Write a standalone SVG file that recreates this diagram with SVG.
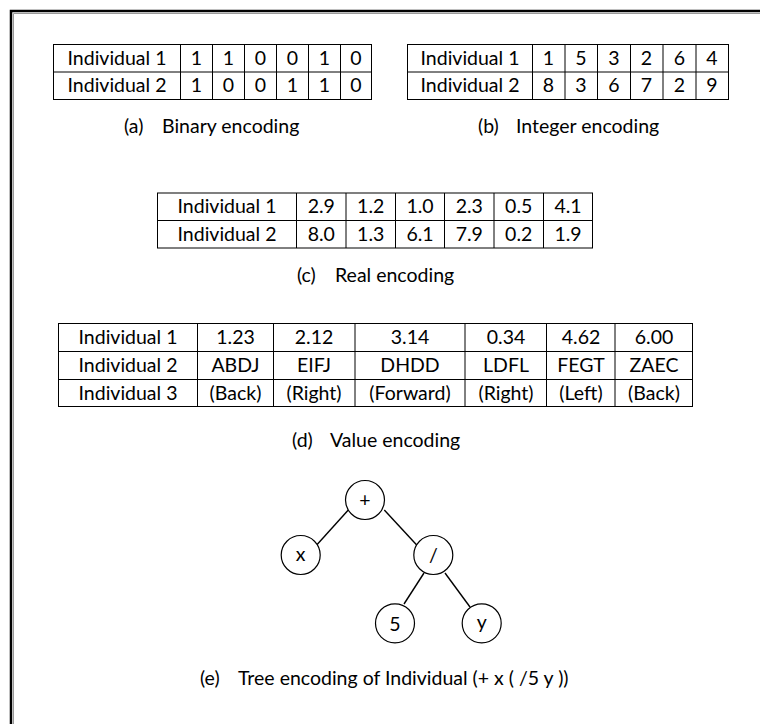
<svg xmlns="http://www.w3.org/2000/svg" width="760" height="724" viewBox="0 0 760 724">
<style>
  text { font-family: Lato, "Liberation Sans", sans-serif; font-size: 19.5px; fill: #000; }
  .c { text-anchor: middle; }
  .grid { stroke: #000; stroke-width: 1; fill: none; }
  .node { fill: #fff; stroke: #000; stroke-width: 1.2; }
  .edge { stroke: #000; stroke-width: 1.4; fill: none; }
</style>
<rect x="0" y="0" width="760" height="724" fill="#fff"/>
<g id="frame">
  <path d="M11 724 V11 H760" stroke="#000" stroke-width="2.5" fill="none"/>
  <path d="M13.5 724 V13.5 H760" stroke="#999" stroke-width="1" fill="none"/>
</g>

<g id="table-a">
  <rect class="grid" x="53.5" y="44.5" width="318" height="55"/>
  <path class="grid" d="M53.5 72 H371.5 M180.5 44.5 V99.5 M212.5 44.5 V99.5 M244.5 44.5 V99.5 M276.5 44.5 V99.5 M308.5 44.5 V99.5 M340.5 44.5 V99.5"/>
  <text class="c" x="117" y="64.5">Individual 1</text>
  <text class="c" x="196.5" y="64.5">1</text><text class="c" x="228.5" y="64.5">1</text><text class="c" x="260.5" y="64.5">0</text><text class="c" x="292.5" y="64.5">0</text><text class="c" x="324.5" y="64.5">1</text><text class="c" x="356" y="64.5">0</text>
  <text class="c" x="117" y="92">Individual 2</text>
  <text class="c" x="196.5" y="92">1</text><text class="c" x="228.5" y="92">0</text><text class="c" x="260.5" y="92">0</text><text class="c" x="292.5" y="92">1</text><text class="c" x="324.5" y="92">1</text><text class="c" x="356" y="92">0</text>
</g>

<g id="table-b">
  <rect class="grid" x="407.5" y="44.5" width="321" height="55"/>
  <path class="grid" d="M407.5 72 H728.5 M532.5 44.5 V99.5 M565 44.5 V99.5 M597.5 44.5 V99.5 M630.5 44.5 V99.5 M663 44.5 V99.5 M696 44.5 V99.5"/>
  <text class="c" x="470" y="64.5">Individual 1</text>
  <text class="c" x="548.5" y="64.5">1</text><text class="c" x="581" y="64.5">5</text><text class="c" x="614" y="64.5">3</text><text class="c" x="646.5" y="64.5">2</text><text class="c" x="679.5" y="64.5">6</text><text class="c" x="712" y="64.5">4</text>
  <text class="c" x="470" y="92">Individual 2</text>
  <text class="c" x="548.5" y="92">8</text><text class="c" x="581" y="92">3</text><text class="c" x="614" y="92">6</text><text class="c" x="646.5" y="92">7</text><text class="c" x="679.5" y="92">2</text><text class="c" x="712" y="92">9</text>
</g>

<g id="table-c">
  <rect class="grid" x="157.5" y="193" width="435" height="55"/>
  <path class="grid" d="M157.5 220.5 H592.5 M296.5 193 V248 M346 193 V248 M395.5 193 V248 M444.5 193 V248 M494 193 V248 M543.5 193 V248"/>
  <text class="c" x="227" y="213">Individual 1</text>
  <text class="c" x="321.3" y="213">2.9</text><text class="c" x="370.7" y="213">1.2</text><text class="c" x="420" y="213">1.0</text><text class="c" x="469.3" y="213">2.3</text><text class="c" x="518.7" y="213">0.5</text><text class="c" x="568" y="213">4.1</text>
  <text class="c" x="227" y="240.5">Individual 2</text>
  <text class="c" x="321.3" y="240.5">8.0</text><text class="c" x="370.7" y="240.5">1.3</text><text class="c" x="420" y="240.5">6.1</text><text class="c" x="469.3" y="240.5">7.9</text><text class="c" x="518.7" y="240.5">0.2</text><text class="c" x="568" y="240.5">1.9</text>
</g>

<g id="table-d">
  <rect class="grid" x="58.5" y="323.5" width="634" height="83"/>
  <path class="grid" d="M58.5 351.5 H692.5 M58.5 379.5 H692.5 M197.5 323.5 V406.5 M273.5 323.5 V406.5 M355 323.5 V406.5 M465 323.5 V406.5 M546.5 323.5 V406.5 M615 323.5 V406.5"/>
  <text class="c" x="128" y="344">Individual 1</text>
  <text class="c" x="235.5" y="344">1.23</text><text class="c" x="314" y="344">2.12</text><text class="c" x="410" y="344">3.14</text><text class="c" x="506" y="344">0.34</text><text class="c" x="581" y="344">4.62</text><text class="c" x="654" y="344">6.00</text>
  <text class="c" x="128" y="372">Individual 2</text>
  <text class="c" x="235.5" y="372">ABDJ</text><text class="c" x="314" y="372">EIFJ</text><text class="c" x="410" y="372">DHDD</text><text class="c" x="506" y="372">LDFL</text><text class="c" x="581" y="372">FEGT</text><text class="c" x="654" y="372">ZAEC</text>
  <text class="c" x="128" y="399.5">Individual 3</text>
  <text class="c" x="235.5" y="399.5">(Back)</text><text class="c" x="314" y="399.5">(Right)</text><text class="c" x="410" y="399.5">(Forward)</text><text class="c" x="506" y="399.5">(Right)</text><text class="c" x="581" y="399.5">(Left)</text><text class="c" x="654" y="399.5">(Back)</text>
</g>

<g id="captions">
  <text x="124" y="133">(a)</text><text x="162" y="133">Binary encoding</text>
  <text x="478" y="133">(b)</text><text x="516" y="133">Integer encoding</text>
  <text x="297" y="282">(c)</text><text x="335" y="282">Real encoding</text>
  <text x="292" y="447">(d)</text><text x="330" y="447">Value encoding</text>
  <text x="200" y="685">(e)</text><text x="238" y="685">Tree encoding of Individual (+ x ( /5 y ))</text>
</g>

<g id="connectors">
  <line class="edge" x1="348.3" y1="510" x2="316.7" y2="545"/>
  <line class="edge" x1="384.3" y1="510" x2="416.7" y2="545"/>
  <line class="edge" x1="424" y1="573" x2="404" y2="604"/>
  <line class="edge" x1="445" y1="573" x2="470" y2="607"/>
</g>

<g id="node-plus">
  <circle class="node" cx="365" cy="500" r="19.5"/>
  <text class="c" x="365" y="507">+</text>
</g>
<g id="node-x">
  <circle class="node" cx="300.7" cy="555" r="19.5"/>
  <text class="c" x="300.7" y="561">x</text>
</g>
<g id="node-div">
  <circle class="node" cx="433.3" cy="555" r="19.5"/>
  <text class="c" x="433.3" y="562">/</text>
</g>
<g id="node-5">
  <circle class="node" cx="395" cy="623.3" r="19.5"/>
  <text class="c" x="395" y="630.5">5</text>
</g>
<g id="node-y">
  <circle class="node" cx="481.7" cy="623.3" r="19.5"/>
  <text class="c" x="481.7" y="629">y</text>
</g>
</svg>
